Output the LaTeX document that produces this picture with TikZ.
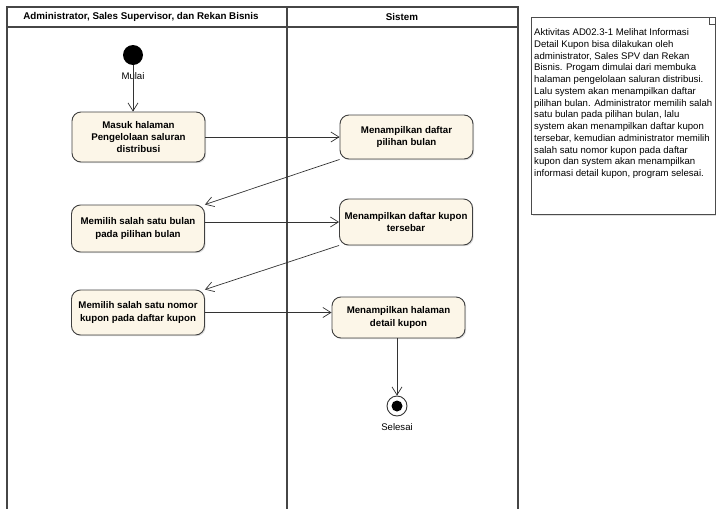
\documentclass[tikz,border=0pt]{standalone}
\usepackage{fontspec}
\setmainfont{Liberation Sans}
\usetikzlibrary{arrows.meta,shadows}
\definecolor{actfill}{RGB}{252,246,232}
\definecolor{laneline}{RGB}{70,70,70}
\tikzset{activity/.style={draw=black!75, fill=actfill, rounded corners=9pt,
         line width=0.9pt, minimum width=133pt, inner sep=1pt, align=center,
         font=\bfseries\fontsize{9.7}{12.2}\selectfont,
         drop shadow={opacity=0.25, shadow xshift=1.2pt, shadow yshift=-1.2pt}},
         flow/.style={draw=black!80, line width=0.7pt,
         -{Straight Barb[length=8pt,width=10pt]}},
         lane/.style={draw=laneline, line width=1.1pt},
         small/.style={font=\fontsize{9.6}{11}\selectfont}}

\begin{document}
\begin{tikzpicture}[x=1pt,y=-1pt]
    \useasboundingbox (0,0) rectangle (716,509);
    \clip (0,0) rectangle (716,509);

    % swimlanes
    \draw[lane] (7,520) -- (7,7) -- (518,7) -- (518,520);
    \draw[lane] (7,27) -- (518,27);
    \draw[lane] (287,7) -- (287,520);
    \node[font=\bfseries\fontsize{9.8}{11}\selectfont] (lanea) at (141,17) {Administrator, Sales Supervisor, dan Rekan Bisnis};
    \node[font=\bfseries\fontsize{9.8}{11}\selectfont] (laneb) at (402,17) {Sistem};

    % note
    \draw[draw=black!70, fill=white, line width=0.8pt,
          drop shadow={opacity=0.25, shadow xshift=1.5pt, shadow yshift=-1.5pt}]
          (531,17) rectangle (715,214);
    \draw[draw=black!70, line width=0.6pt] (709,17) -- (709,24) -- (716,24);
    \node[anchor=north west, inner sep=0pt, align=left,
          font=\fontsize{9.6}{11.75}\selectfont] (note) at (534,28.5)
      {Aktivitas AD02.3-1 Melihat Informasi\\
       Detail Kupon bisa dilakukan oleh\\
       administrator, Sales SPV dan Rekan\\
       Bisnis. Progam dimulai dari membuka\\
       halaman pengelolaan saluran distribusi.\\
       Lalu system akan menampilkan daftar\\
       pilihan bulan. Administrator memilih salah\\
       satu bulan pada pilihan bulan, lalu\\
       system akan menampilkan daftar kupon\\
       tersebar, kemudian administrator memilih\\
       salah satu nomor kupon pada daftar\\
       kupon dan system akan menampilkan\\
       informasi detail kupon, program selesai.};

    % activities
    \node[circle, fill=black, minimum size=20pt, inner sep=0pt] (start) at (133,55) {};
    \node[small] (mulai) at (133,76) {Mulai};
    \node[activity, minimum height=50pt] (masuk) at (138.5,137) {Masuk halaman\\Pengelolaan saluran\\distribusi};
    \node[activity, minimum height=44pt] (bulan) at (406.5,137) {Menampilkan daftar\\pilihan bulan};
    \node[activity, minimum height=47pt] (pilihbulan) at (138,228.5) {Memilih salah satu bulan\\pada pilihan bulan};
    \node[activity, minimum height=46pt] (kupon) at (406,222) {Menampilkan daftar kupon\\tersebar};
    \node[activity, minimum height=45pt] (pilihkupon) at (138,312.5) {Memilih salah satu nomor\\kupon pada daftar kupon};
    \node[activity, minimum height=41pt] (detail) at (398.5,317.5) {Menampilkan halaman\\detail kupon};
    \node[circle, draw=black!80, fill=white, line width=0.9pt, minimum size=20pt, inner sep=0pt] (end) at (397,406) {};
    \fill (end) circle[radius=5.5pt];
    \node[small] (selesai) at (397,427) {Selesai};

    \draw[flow] (start) -- (start |- masuk.north);
    \draw[flow] (masuk) -- (bulan);
    \draw[flow] (bulan.south west) -- (pilihbulan.north east);
    \draw[flow] (pilihbulan.east |- kupon.west) -- (kupon.west);
    \draw[flow] (kupon.south west) -- (pilihkupon.north east);
    \draw[flow] (pilihkupon.east) -- (pilihkupon.east -| detail.west);
    \draw[flow] (detail.south -| end) -- (end.north);
\end{tikzpicture}
\end{document}
